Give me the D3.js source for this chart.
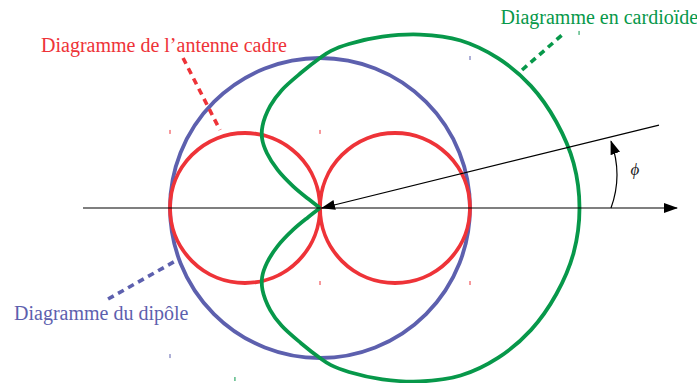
<!DOCTYPE html>
<html>
<head>
<meta charset="utf-8">
<script src="https://cdn.jsdelivr.net/npm/d3@7"></script>
<style>
  html, body { margin: 0; padding: 0; background: #fff; }
  svg { display: block; }
  svg text { font-family: "Liberation Serif", "Times New Roman", Times, "DejaVu Serif", serif; }
</style>
</head>
<body>
<div id="chart"></div>
<script>
// Patterns, in units of the dipole radius
const DIPOLE = [{ cx: 0, cy: 0, r: 1 }];
const LOOP = [{ cx: -0.5, cy: 0, r: 0.5 }, { cx: 0.5, cy: 0, r: 0.5 }];
// Cardioid: angle (deg) from the axis, radius; mirrored below the axis
const CARDIOID_ANGLES = [0, 10, 20, 30, 40, 50, 60, 70, 80, 86, 90, 98, 108, 116, 125, 130, 134, 138, 141, 142.2, 142.8];
const CARDIOID_RADII = [1.73, 1.717, 1.677, 1.625, 1.552, 1.458, 1.335, 1.215, 1.11, 1.05, 1.0, 0.91, 0.826, 0.757, 0.668, 0.6, 0.51, 0.38, 0.23, 0.1, 0];

// Labels with their leader lines
const LABELS = [
    { text: 'Diagramme de l\u2019antenne cadre', x: -1.86, y: 1.04, color: '#ee3338', from: [-0.913, 1.0], to: [-0.667, 0.52] },
    { text: 'Diagramme en cardio\u00efde', x: 1.203, y: 1.227, color: '#07984a', from: [1.347, 0.92], to: [1.613, 1.153] },
    { text: 'Diagramme du dip\u00f4le', x: -2.04, y: -0.747, color: '#5d60ae', from: [-1.413, -0.607], to: [-0.953, -0.347] }
];

// Small marks left in the picture
const MARKS = [
    { x: -1, y: 0.507, color: '#ee3338' }, { x: 0, y: 0.507, color: '#ee3338' },
    { x: 0, y: -0.5, color: '#ee3338' }, { x: 1, y: -0.5, color: '#ee3338' },
    { x: 1, y: 1.0, color: '#5d60ae' }, { x: -1, y: -0.987, color: '#5d60ae' },
    { x: 1.727, y: 1.167, color: '#07984a' }, { x: -0.567, y: -1.14, color: '#07984a' }
];

// Axis and direction line
const AXIS = { x0: -1.58, x1: 2.38 };
const DIRECTION = { x: 2.26, y: 0.553 };
const PHI_ARC = { start: [1.94, 0], control: [2.02, 0.22], end: [1.94, 0.445], label: [2.07, 0.22] };

const WIDTH = 697;
const HEIGHT = 383;
const STROKE = 3.8;

const X = d3.scaleLinear().domain([-1, 1]).range([170, 470]);
const Y = d3.scaleLinear().domain([-1, 1]).range([358, 58]);
const K = X(1) - X(0);

const SVG = d3.select('#chart').append('svg')
    .attr('width', WIDTH)
    .attr('height', HEIGHT);

const DEFS = SVG.append('defs');
DEFS.append('marker')
    .attr('id', 'arrow')
    .attr('viewBox', '0 0 14 10')
    .attr('refX', 13)
    .attr('refY', 5)
    .attr('markerWidth', 14)
    .attr('markerHeight', 10)
    .attr('markerUnits', 'userSpaceOnUse')
    .attr('orient', 'auto')
    .append('path')
    .attr('d', 'M0,0 L14,5 L0,10 Z')
    .attr('fill', '#000');

// Dipole
SVG.append('g').selectAll('circle')
    .data(DIPOLE)
    .join('circle')
    .attr('cx', d => X(d.cx))
    .attr('cy', d => Y(d.cy))
    .attr('r', d => d.r * K)
    .attr('fill', 'none')
    .attr('stroke', '#5d60ae')
    .attr('stroke-width', STROKE);

// Loop
SVG.append('g').selectAll('circle')
    .data(LOOP)
    .join('circle')
    .attr('cx', d => X(d.cx))
    .attr('cy', d => Y(d.cy))
    .attr('r', d => d.r * K)
    .attr('fill', 'none')
    .attr('stroke', '#ee3338')
    .attr('stroke-width', STROKE);

// Cardioid, from the lower cusp branch round to the upper one
const HALF = CARDIOID_ANGLES.map((a, i) => ({ a, r: CARDIOID_RADII[i] }));
const CARDIOID = HALF.slice(1).reverse().map(d => ({ a: -d.a, r: d.r })).concat(HALF)
    .map(d => [d.r * Math.cos(d.a * Math.PI / 180), d.r * Math.sin(d.a * Math.PI / 180)]);

const line = d3.line()
    .x(d => X(d[0]))
    .y(d => Y(d[1]))
    .curve(d3.curveCatmullRom.alpha(0.5));

SVG.append('path')
    .datum(CARDIOID)
    .attr('d', line)
    .attr('fill', 'none')
    .attr('stroke', '#07984a')
    .attr('stroke-width', STROKE)
    .attr('stroke-linejoin', 'miter');

// Axis
SVG.append('line')
    .attr('x1', X(AXIS.x0)).attr('y1', Y(0))
    .attr('x2', X(AXIS.x1)).attr('y2', Y(0))
    .attr('stroke', '#000')
    .attr('stroke-width', 1.2)
    .attr('marker-end', 'url(#arrow)');

// Direction
SVG.append('line')
    .attr('x1', X(DIRECTION.x)).attr('y1', Y(DIRECTION.y))
    .attr('x2', X(0) + 2).attr('y2', Y(0))
    .attr('stroke', '#000')
    .attr('stroke-width', 1.2)
    .attr('marker-end', 'url(#arrow)');

// Angle arc
SVG.append('path')
    .attr('d', `M${X(PHI_ARC.start[0])},${Y(PHI_ARC.start[1])} Q${X(PHI_ARC.control[0])},${Y(PHI_ARC.control[1])} ${X(PHI_ARC.end[0])},${Y(PHI_ARC.end[1])}`)
    .attr('fill', 'none')
    .attr('stroke', '#000')
    .attr('stroke-width', 1.2)
    .attr('marker-end', 'url(#arrow)');

SVG.append('text')
    .attr('x', X(PHI_ARC.label[0]))
    .attr('y', Y(PHI_ARC.label[1]))
    .attr('font-style', 'italic')
    .attr('font-size', 17)
    .attr('fill', '#222')
    .text('\u03d5');

// Leader lines
SVG.append('g').selectAll('line')
    .data(LABELS)
    .join('line')
    .attr('x1', d => X(d.from[0])).attr('y1', d => Y(d.from[1]))
    .attr('x2', d => X(d.to[0])).attr('y2', d => Y(d.to[1]))
    .attr('stroke', d => d.color)
    .attr('stroke-width', 3.6)
    .attr('stroke-dasharray', '6.5 5');

// Labels
SVG.append('g').selectAll('text')
    .data(LABELS)
    .join('text')
    .attr('x', d => X(d.x))
    .attr('y', d => Y(d.y))
    .attr('fill', d => d.color)
    .attr('font-size', 20)
    .text(d => d.text);

// Marks
SVG.append('g').selectAll('line')
    .data(MARKS)
    .join('line')
    .attr('x1', d => X(d.x)).attr('y1', d => Y(d.y) - 2)
    .attr('x2', d => X(d.x)).attr('y2', d => Y(d.y) + 2)
    .attr('stroke', d => d.color)
    .attr('stroke-width', 1);
</script>
</body>
</html>
